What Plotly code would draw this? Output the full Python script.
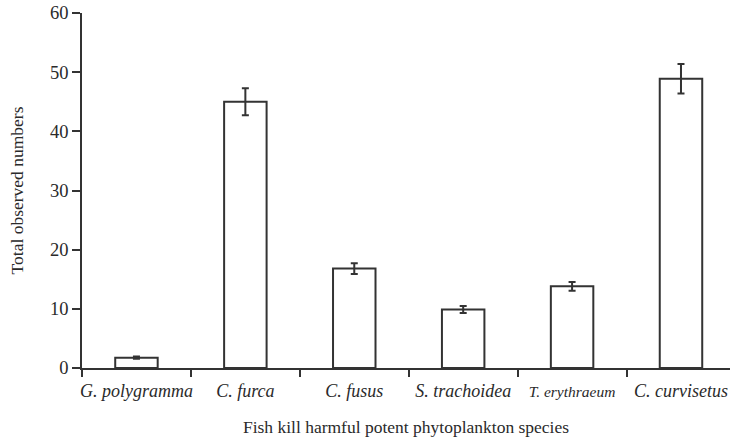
import plotly.graph_objects as go

species = ["G. polygramma", "C. furca", "C. fusus", "S. trachoidea", "T. erythraeum", "C. curvisetus"]
label_sizes = [18, 18, 18, 18, 15.5, 18]
counts = [1.75, 45.0, 16.8, 9.9, 13.8, 48.9]
errors = [0.2, 2.3, 0.9, 0.6, 0.75, 2.5]
y_ticks = [0, 10, 20, 30, 40, 50, 60]

line_col = "#333333"
text_col = "#2a2a2a"
serif = "Liberation Serif"

ticktext = [f"<span style='font-size:{s}px'><i>{n}</i></span>" for n, s in zip(species, label_sizes)]

fig = go.Figure(go.Bar(
    x=species,
    y=counts,
    width=0.39,
    marker=dict(color="white", line=dict(color=line_col, width=2)),
    error_y=dict(type="data", array=errors, visible=True, color=line_col, thickness=2, width=3.5),
))

fig.update_layout(
    width=730, height=443,
    margin=dict(l=82, r=0, t=13, b=75),
    paper_bgcolor="white", plot_bgcolor="white",
    font=dict(family=serif, color=text_col, size=17.5),
    showlegend=False,
)
fig.update_xaxes(
    type="category",
    automargin=False,
    range=[-0.5, 5.45],
    tickmode="array", tickvals=species, ticktext=ticktext,
    tickson="boundaries", tickangle=0, ticklabelstandoff=6,
    ticks="outside", ticklen=7, tickwidth=1.5, tickcolor=line_col,
    showline=True, linecolor=line_col, linewidth=1.5,
    showgrid=False, zeroline=False,
    title=dict(text="Fish kill harmful potent phytoplankton species", font=dict(family=serif, size=17.5, color=text_col), standoff=20),
    tickfont=dict(family=serif, size=18, color=text_col),
)
fig.update_yaxes(
    automargin=False,
    range=[0, 60],
    tickmode="array", tickvals=y_ticks,
    ticks="outside", ticklen=8, tickwidth=1.5, tickcolor=line_col,
    showline=True, linecolor=line_col, linewidth=1.5,
    showgrid=False, zeroline=False,
    title=dict(text="Total observed numbers", font=dict(family=serif, size=17.5, color=text_col), standoff=22),
    tickfont=dict(family=serif, size=18.5, color=text_col),
)

fig.write_html("out.html", config={"displayModeBar": False},
               post_script="document.body.style.margin='0';document.body.style.overflow='hidden';")
